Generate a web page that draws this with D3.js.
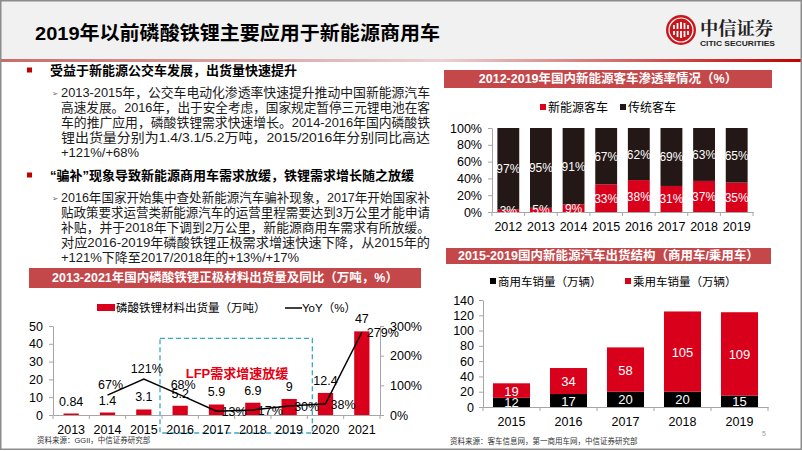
<!DOCTYPE html>
<html><head><meta charset="utf-8">
<script src="https://cdn.jsdelivr.net/npm/d3@7"></script>
<style>
body{margin:0;background:#fff;}
svg{display:block;font-family:"Liberation Sans","Noto Sans CJK SC",sans-serif;}
</style></head>
<body><svg id="s" width="802" height="451"></svg>
<script>
// ---------- data ----------
const pageTitle = "2019年以前磷酸铁锂主要应用于新能源商用车";
const bullet1 = "受益于新能源公交车发展，出货量快速提升";
const para1 = [
  "2013-2015年，公交车电动化渗透率快速提升推动中国新能源汽车",
  "高速发展。2016年，出于安全考虑，国家规定暂停三元锂电池在客",
  "车的推广应用，磷酸铁锂需求快速增长。2014-2016年国内磷酸铁",
  "锂出货量分别为1.4/3.1/5.2万吨，2015/2016年分别同比高达",
  "+121%/+68%"
];
const bullet2 = "“骗补”现象导致新能源商用车需求放缓，铁锂需求增长随之放缓";
const para2 = [
  "2016年国家开始集中查处新能源汽车骗补现象，2017年开始国家补",
  "贴政策要求运营类新能源汽车的运营里程需要达到3万公里才能申请",
  "补贴，并于2018年下调到2万公里，新能源商用车需求有所放缓。",
  "对应2016-2019年磷酸铁锂正极需求增速快速下降，从2015年的",
  "+121%下降至2017/2018年的+13%/+17%"
];

// chart 1: LFP shipments
const c1Title = "2013-2021年国内磷酸铁锂正极材料出货量及同比（万吨，%）";
const c1Years = ["2013","2014","2015","2016","2017","2018","2019","2020","2021"];
const c1Ship = [0.84, 1.4, 3.1, 5.2, 5.9, 6.9, 9, 12.4, 47];
const c1YoY = [null, 67, 121, 68, 13, 17, 30, 38, 279];
const c1ShipLabels = ["0.84","1.4","3.1","5.2","5.9","6.9","9","12.4","47"];
const c1LeftTicks = [0,10,20,30,40,50];
const c1RightTicks = [0,100,200,300];
const c1Legend = ["磷酸铁锂材料出货量（万吨）","YoY（%）"];
const c1Note = "LFP需求增速放缓";
const c1Source = "资料来源：GGII，中信证券研究部";

// chart 2: bus penetration
const c2Title = "2012-2019年国内新能源客车渗透率情况（%）";
const c2Years = ["2012","2013","2014","2015","2016","2017","2018","2019"];
const c2NEV = [3, 5, 9, 33, 38, 31, 37, 35];
const c2Trad = [97, 95, 91, 67, 62, 69, 63, 65];
const c2Ticks = [0,20,40,60,80,100];
const c2Legend = ["新能源客车","传统客车"];

// chart 3: NEV structure
const c3Title = "2015-2019国内新能源汽车出货结构（商用车/乘用车）";
const c3Years = ["2015","2016","2017","2018","2019"];
const c3Commercial = [12, 17, 20, 20, 15];
const c3Passenger = [19, 34, 58, 105, 109];
const c3Ticks = [0,20,40,60,80,100,120,140];
const c3Legend = ["商用车销量（万辆）","乘用车销量（万辆）"];
const c3Source = "资料来源：客车信息网，第一商用车网，中信证券研究部";

// ---------- styles ----------
const RED = "#d9001b";
const BOXRED = "#c4474a";
const DARK = "#231815";
const AXIS = "#a6a6a6";

const svg = d3.select("#s");
const defs = svg.append("defs");
const g1 = defs.append("linearGradient").attr("id","hl").attr("x1","0").attr("x2","1");
g1.append("stop").attr("offset","0").attr("stop-color","#c96a6a");
g1.append("stop").attr("offset","0.55").attr("stop-color","#ead2d2");
g1.append("stop").attr("offset","1").attr("stop-color","#c00000");

// background & header
svg.append("rect").attr("x",0).attr("y",0).attr("width",802).attr("height",451).attr("fill","#fff");
svg.append("rect").attr("x",0).attr("y",0).attr("width",802).attr("height",59).attr("fill","#f1f1f1");
svg.append("rect").attr("x",0).attr("y",59).attr("width",802).attr("height",3).attr("fill","url(#hl)");
svg.append("rect").attr("x",0.75).attr("y",0.75).attr("width",800.5).attr("height",448.5)
  .attr("fill","none").attr("stroke","#8c8c8c").attr("stroke-width",1.5);

svg.append("text").attr("x",35).attr("y",40).attr("font-size",19).attr("font-weight","bold")
  .attr("fill","#000").attr("textLength",405).attr("lengthAdjust","spacingAndGlyphs").text(pageTitle);

// logo
const logo = svg.append("g");
logo.append("circle").attr("cx",681).attr("cy",30).attr("r",15).attr("fill","#c8161d");
logo.append("circle").attr("cx",681).attr("cy",30).attr("r",12).attr("fill","none").attr("stroke","#fff").attr("stroke-width",1.2);
[-7,-3.5,0,3.5,7].forEach((dx,i)=>{
  const h = [10,14,16,14,10][i];
  logo.append("rect").attr("x",681+dx-0.9).attr("y",30-h/2).attr("width",1.8).attr("height",h).attr("fill","#fff");
});
logo.append("rect").attr("x",671).attr("y",29).attr("width",20).attr("height",2).attr("fill","#c8161d");
logo.append("text").attr("x",700).attr("y",35).attr("font-size",18).attr("font-weight","bold")
  .attr("font-family","'Noto Serif CJK SC','Noto Sans CJK SC',serif").attr("fill","#222")
  .attr("textLength",73).attr("lengthAdjust","spacingAndGlyphs").text("中信证券");
logo.append("text").attr("x",700).attr("y",46).attr("font-size",7.5).attr("font-weight","bold")
  .attr("fill","#222").attr("textLength",75).attr("lengthAdjust","spacingAndGlyphs").text("CITIC SECURITIES");

// ---------- text block ----------
function bullet(y, txt){
  svg.append("rect").attr("x",27).attr("y",y-2.5).attr("width",5).attr("height",5).attr("fill","#c00000");
  svg.append("text").attr("x",50).attr("y",y+4.6).attr("font-size",13).attr("font-weight","bold")
    .attr("fill","#000").text(txt);
}
function para(y0, lines){
  lines.forEach((t,i)=>{
    const y = y0 + i*15.2;
    if(i===0){
      svg.append("text").attr("x",52).attr("y",y+3.5).attr("font-size",7.5)
        .attr("font-family","DejaVu Sans").attr("fill","#666").text("➢");
    }
    const tx = svg.append("text").attr("x",61).attr("y",y+4.6).attr("font-size",13).attr("fill","#1a1a1a").text(t);
    if(i<lines.length-1) tx.attr("textLength",369).attr("lengthAdjust","spacingAndGlyphs");
  });
}
bullet(70, bullet1);
para(92, para1);
bullet(175, bullet2);
para(197, para2);

// chart title boxes
function titleBox(x,y,w,h,txt){
  svg.append("rect").attr("x",x).attr("y",y).attr("width",w).attr("height",h).attr("fill",BOXRED);
  svg.append("text").attr("x",x+w/2).attr("y",y+h/2+4.3).attr("text-anchor","middle")
    .attr("font-size",12.5).attr("font-weight","bold").attr("fill","#fff").text(txt);
}
titleBox(29,268,392,20,c1Title);
titleBox(444,70,328,18,c2Title);
titleBox(446,248,325,16,c3Title);

function styleAxis(g){
  g.selectAll("path,line").attr("stroke",AXIS);
  g.selectAll("text").attr("fill","#000").attr("font-size",12.5)
    .attr("font-family","'Liberation Sans',sans-serif");
}
function boundaryTicks(x, yBase){
  const step = x.step(), dom = x.domain();
  const xs = d3.range(dom.length+1).map(i=>x.range()[0]+i*step);
  svg.append("g").selectAll("line").data(xs).join("line")
    .attr("x1",d=>d).attr("x2",d=>d).attr("y1",yBase).attr("y2",yBase+4).attr("stroke",AXIS);
}

// ---------- chart 1 ----------
{
  const x = d3.scaleBand().domain(c1Years).range([53,380]);
  const y = d3.scaleLinear().domain([0,50]).range([415,326]);
  const yR = d3.scaleLinear().domain([0,300]).range([415,326]);
  const bw = x.step()*0.42;
  const cx = d => x(d)+x.bandwidth()/2;

  // legend
  svg.append("rect").attr("x",97).attr("y",304).attr("width",18).attr("height",7).attr("fill",RED);
  svg.append("text").attr("x",116).attr("y",312).attr("font-size",11.5).attr("fill","#000").text(c1Legend[0]);
  svg.append("line").attr("x1",285).attr("x2",302).attr("y1",308).attr("y2",308).attr("stroke","#000").attr("stroke-width",1.5);
  svg.append("text").attr("x",302).attr("y",312).attr("font-size",11.5).attr("fill","#000").text(c1Legend[1]);

  // dashed box
  svg.append("rect").attr("x",x("2016")-2).attr("y",y(43)).attr("width",x("2019")+x.step()+5-(x("2016")-2))
    .attr("height",433-y(43)).attr("fill","none").attr("stroke","#3aa8cc").attr("stroke-width",1.3)
    .attr("stroke-dasharray","5,3");

  svg.append("g").selectAll("rect").data(c1Ship).join("rect")
    .attr("x",(d,i)=>cx(c1Years[i])-bw/2).attr("width",bw)
    .attr("y",d=>y(d)).attr("height",d=>y(0)-y(d)).attr("fill",RED);

  const ga = svg.append("g").attr("transform","translate(53,0)")
    .call(d3.axisLeft(y).tickValues(c1LeftTicks).tickSize(4).tickPadding(6).tickSizeOuter(0));
  styleAxis(ga);
  const gr = svg.append("g").attr("transform","translate(380,0)")
    .call(d3.axisRight(yR).tickValues(c1RightTicks).tickSize(4).tickPadding(6).tickFormat(d=>d+"%").tickSizeOuter(0));
  styleAxis(gr);
  const gb = svg.append("g").attr("transform","translate(0,415)")
    .call(d3.axisBottom(x).tickSize(0).tickPadding(10));
  styleAxis(gb);
  boundaryTicks(x,415);

  const pts = c1YoY.map((v,i)=>({v,i})).filter(d=>d.v!==null);
  svg.append("path").datum(pts)
    .attr("d",d3.line().x(d=>cx(c1Years[d.i])).y(d=>yR(d.v)))
    .attr("fill","none").attr("stroke","#000").attr("stroke-width",1.5);

  svg.append("g").selectAll("text").data(c1Ship).join("text")
    .attr("x",(d,i)=>cx(c1Years[i])).attr("y",d=>y(d)-8)
    .attr("text-anchor","middle").attr("font-size",12.5).attr("fill","#000")
    .text((d,i)=>c1ShipLabels[i]);

  svg.append("g").selectAll("text").data(pts).join("text")
    .attr("x",d=>d.i<=3 ? cx(c1Years[d.i])+3 : cx(c1Years[d.i])+5)
    .attr("y",d=>d.i<=3 ? yR(d.v)-6 : yR(d.v)+5)
    .attr("text-anchor",d=>d.i<=3 ? "middle":"start")
    .attr("font-size",12.5).attr("fill","#000").text(d=>d.v+"%");

  svg.append("text").attr("x",237).attr("y",378).attr("text-anchor","middle")
    .attr("font-size",13).attr("font-weight","bold").attr("fill","#e60012").text(c1Note);

  svg.append("text").attr("x",37).attr("y",443).attr("font-size",7.5).attr("fill","#333").text(c1Source);
}

// ---------- chart 2 ----------
{
  const x = d3.scaleBand().domain(c2Years).range([492,753]);
  const y = d3.scaleLinear().domain([0,100]).range([212,128]);
  const bw = x.step()*0.67;
  const cx = d => x(d)+x.bandwidth()/2;

  svg.append("rect").attr("x",540).attr("y",104).attr("width",6).attr("height",6).attr("fill",RED);
  svg.append("text").attr("x",548).attr("y",112).attr("font-size",12).attr("fill","#000").text(c2Legend[0]);
  svg.append("rect").attr("x",620).attr("y",104).attr("width",6).attr("height",6).attr("fill",DARK);
  svg.append("text").attr("x",628).attr("y",112).attr("font-size",12).attr("fill","#000").text(c2Legend[1]);

  svg.append("g").selectAll("rect").data(c2NEV).join("rect")
    .attr("x",(d,i)=>cx(c2Years[i])-bw/2).attr("width",bw)
    .attr("y",d=>y(d)).attr("height",d=>y(0)-y(d)).attr("fill",RED);
  svg.append("g").selectAll("rect").data(c2Trad).join("rect")
    .attr("x",(d,i)=>cx(c2Years[i])-bw/2).attr("width",bw)
    .attr("y",(d,i)=>y(c2NEV[i]+d)).attr("height",(d,i)=>y(c2NEV[i])-y(c2NEV[i]+d)).attr("fill",DARK);

  const ga = svg.append("g").attr("transform","translate(492,0)")
    .call(d3.axisLeft(y).tickValues(c2Ticks).tickSize(4).tickPadding(6).tickFormat(d=>d+"%").tickSizeOuter(0));
  styleAxis(ga);
  const gb = svg.append("g").attr("transform","translate(0,212)")
    .call(d3.axisBottom(x).tickSize(0).tickPadding(10));
  styleAxis(gb);
  boundaryTicks(x,212);

  svg.append("g").selectAll("text").data(c2NEV).join("text")
    .attr("x",(d,i)=>cx(c2Years[i])).attr("y",d=>(y(0)+y(d))/2+4.5)
    .attr("text-anchor","middle").attr("font-size",12).attr("fill","#fff").text(d=>d+"%");
  svg.append("g").selectAll("text").data(c2Trad).join("text")
    .attr("x",(d,i)=>cx(c2Years[i])).attr("y",(d,i)=>(y(c2NEV[i])+y(100))/2+4.5)
    .attr("text-anchor","middle").attr("font-size",12).attr("fill","#fff").text(d=>d+"%");
}

// ---------- chart 3 ----------
{
  const x = d3.scaleBand().domain(c3Years).range([483,768]);
  const y = d3.scaleLinear().domain([0,140]).range([407,300]);
  const bw = x.step()*0.65;
  const cx = d => x(d)+x.bandwidth()/2;

  svg.append("rect").attr("x",490).attr("y",278).attr("width",6).attr("height",6).attr("fill","#000");
  svg.append("text").attr("x",498).attr("y",285.5).attr("font-size",11.5).attr("fill","#000").text(c3Legend[0]);
  svg.append("rect").attr("x",625).attr("y",278).attr("width",6).attr("height",6).attr("fill",RED);
  svg.append("text").attr("x",633).attr("y",285.5).attr("font-size",11.5).attr("fill","#000").text(c3Legend[1]);

  svg.append("g").selectAll("rect").data(c3Commercial).join("rect")
    .attr("x",(d,i)=>cx(c3Years[i])-bw/2).attr("width",bw)
    .attr("y",d=>y(d)).attr("height",d=>y(0)-y(d)).attr("fill","#000");
  svg.append("g").selectAll("rect").data(c3Passenger).join("rect")
    .attr("x",(d,i)=>cx(c3Years[i])-bw/2).attr("width",bw)
    .attr("y",(d,i)=>y(c3Commercial[i]+d)).attr("height",(d,i)=>y(c3Commercial[i])-y(c3Commercial[i]+d)).attr("fill",RED);

  const ga = svg.append("g").attr("transform","translate(483,0)")
    .call(d3.axisLeft(y).tickValues(c3Ticks).tickSize(4).tickPadding(5).tickSizeOuter(0));
  styleAxis(ga);
  const gb = svg.append("g").attr("transform","translate(0,407)")
    .call(d3.axisBottom(x).tickSize(0).tickPadding(10));
  styleAxis(gb);
  boundaryTicks(x,407);

  svg.append("g").selectAll("text").data(c3Commercial).join("text")
    .attr("x",(d,i)=>cx(c3Years[i])).attr("y",d=>(y(0)+y(d))/2+5)
    .attr("text-anchor","middle").attr("font-size",13).attr("fill","#fff").text(d=>d);
  svg.append("g").selectAll("text").data(c3Passenger).join("text")
    .attr("x",(d,i)=>cx(c3Years[i])).attr("y",(d,i)=>(y(c3Commercial[i])+y(c3Commercial[i]+d))/2+5)
    .attr("text-anchor","middle").attr("font-size",13).attr("fill","#fff").text(d=>d);

  svg.append("text").attr("x",450).attr("y",444).attr("font-size",7.5).attr("fill","#333").text(c3Source);
  svg.append("text").attr("x",762).attr("y",436).attr("font-size",7).attr("fill","#999").text("5");
}
</script></body></html>
